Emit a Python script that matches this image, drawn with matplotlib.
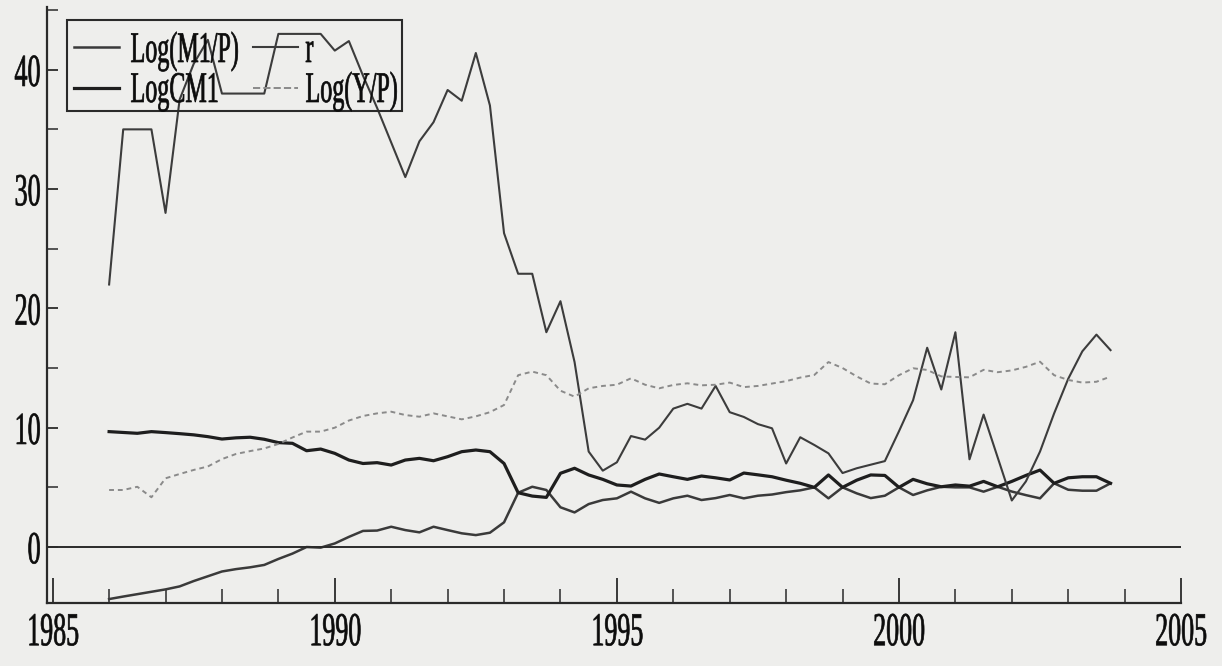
import numpy as np
import matplotlib
matplotlib.use("Agg")
import matplotlib.pyplot as plt
from matplotlib.lines import Line2D
from matplotlib.patches import Rectangle
from matplotlib.patheffects import AbstractPathEffect
from matplotlib.transforms import Affine2D

# quarterly observations, 1986(1) - 2003(4)
start_year = 1986
n_obs = 72

log_m1p = [-4.36, -4.15, -3.95, -3.75, -3.55, -3.3, -2.85, -2.45, -2.05, -1.85,
           -1.7, -1.5, -1.0, -0.55, 0.0, -0.05, 0.3, 0.85, 1.35, 1.38,
           1.7, 1.42, 1.23, 1.7, 1.42, 1.15, 1.0, 1.2, 2.07, 4.55,
           5.05, 4.78, 3.33, 2.9, 3.6, 3.94, 4.08, 4.64, 4.08, 3.7,
           4.08, 4.3, 3.94, 4.1, 4.36, 4.08, 4.3, 4.4, 4.6, 4.75,
           5.0, 4.08, 5.0, 4.5, 4.1, 4.3, 5.0, 4.36, 4.75, 5.05,
           5.0, 5.0, 4.64, 5.05, 4.65, 4.35, 4.08, 5.34, 4.8, 4.72,
           4.72, 5.34]

log_cm1 = [9.67, 9.6, 9.53, 9.67, 9.59, 9.5, 9.4, 9.25, 9.05, 9.15,
           9.2, 9.03, 8.75, 8.69, 8.07, 8.21, 7.85, 7.29, 7.0, 7.07,
           6.87, 7.29, 7.43, 7.23, 7.57, 7.99, 8.13, 7.99, 7.0, 4.55,
           4.27, 4.16, 6.18, 6.6, 6.04, 5.67, 5.2, 5.11, 5.67, 6.12,
           5.89, 5.67, 5.95, 5.8, 5.62, 6.2, 6.05, 5.89, 5.6, 5.34,
           5.0, 6.04, 5.0, 5.6, 6.04, 6.0, 5.0, 5.67, 5.3, 5.05,
           5.2, 5.1, 5.5, 5.05, 5.5, 6.0, 6.45, 5.34, 5.8, 5.89,
           5.89, 5.34]

r = [22.0, 35.0, 35.0, 35.0, 28.0, 37.5, 40.5, 42.5, 38.0, 38.0,
     38.0, 38.0, 43.0, 43.0, 43.0, 43.0, 41.6, 42.4, 39.5, 36.8,
     33.9, 31.0, 34.0, 35.6, 38.3, 37.4, 41.4, 37.0, 26.3, 22.9,
     22.9, 18.0, 20.6, 15.5, 8.0, 6.4, 7.1, 9.3, 9.0, 10.0,
     11.6, 12.0, 11.6, 13.5, 11.3, 10.9, 10.3, 9.95, 7.0, 9.2,
     8.55, 7.85, 6.2, 6.6, 6.9, 7.2, 9.7, 12.3, 16.7, 13.2,
     18.0, 7.35, 11.1, 7.5, 3.9, 5.5, 8.0, 11.2, 14.1, 16.4,
     17.8, 16.5]

log_yp = [4.78, 4.78, 5.05, 4.17, 5.76, 6.12, 6.46, 6.75, 7.37, 7.8,
          8.04, 8.26, 8.64, 9.18, 9.67, 9.67, 10.0, 10.6, 10.98, 11.2,
          11.34, 11.06, 10.92, 11.2, 10.95, 10.7, 10.95, 11.3, 11.9, 14.4,
          14.7, 14.4, 13.1, 12.6, 13.3, 13.5, 13.6, 14.14, 13.6, 13.3,
          13.58, 13.72, 13.55, 13.6, 13.78, 13.4, 13.5, 13.7, 13.9, 14.2,
          14.42, 15.5, 15.0, 14.3, 13.7, 13.64, 14.4, 14.98, 14.84, 14.3,
          14.25, 14.22, 14.85, 14.65, 14.8, 15.1, 15.53, 14.4, 14.0, 13.78,
          13.85, 14.28]

labels = ['Log(M1/P)', 'LogCM1', 'r', 'Log(Y/P)']
x_ticks = [1985, 1990, 1995, 2000, 2005]
y_ticks = [0, 10, 20, 30, 40]

t = start_year + np.arange(n_obs) / 4.0

W, H = 1222, 666
bg = '#eeeeec'
ink = '#2a2a2a'
text_ink = '#0c0c0c'
plt.rcParams['font.family'] = ['Liberation Serif', 'DejaVu Serif']


class Squeeze(AbstractPathEffect):
    """Draw text narrowed horizontally (condensed look), with a thin outline."""

    def __init__(self, sx, anchor='center', stroke=0.5):
        super().__init__()
        self.sx = sx
        self.anchor = anchor
        self.stroke = stroke

    def draw_path(self, renderer, gc, tpath, affine, rgbFace=None):
        ext = tpath.get_extents()
        c = {'left': ext.x0, 'right': ext.x1}.get(self.anchor, (ext.x0 + ext.x1) / 2)
        squeeze = Affine2D().translate(-c, 0).scale(self.sx, 1).translate(c, 0)
        gc0 = renderer.new_gc()
        gc0.copy_properties(gc)
        gc0.set_linewidth(self.stroke)
        gc0.set_foreground(rgbFace)
        renderer.draw_path(gc0, tpath, squeeze + affine, rgbFace)
        gc0.restore()


def fig_xy(px, py):
    return px / W, 1 - py / H


fig = plt.figure(figsize=(W / 100, H / 100), dpi=100, facecolor=bg)
ax = fig.add_axes([0.0385, 0.0946, 0.928, 0.895])
ax.set_facecolor(bg)

styles = [dict(color='#3a3a3a', lw=1.8),
          dict(color='#1e1e1e', lw=2.3),
          dict(color='#3c3c3c', lw=1.5),
          dict(color='#8a8a8a', lw=1.4, ls=(0, (2.5, 2)))]
for series, lab, st in zip([log_m1p, log_cm1, r, log_yp], labels, styles):
    ax.plot(t, series, label=lab, **st)
ax.axhline(0, color=ink, lw=1.4)

ax.set_xlim(1984.9, 2005)
ax.set_ylim(-4.69, 45.26)

for side in ('top', 'right'):
    ax.spines[side].set_visible(False)
for side in ('left', 'bottom'):
    ax.spines[side].set_color(ink)
    ax.spines[side].set_linewidth(1.6)

ax.set_xticks(x_ticks)
ax.set_xticks(np.arange(1986, 2005), minor=True)
ax.set_yticks(y_ticks)
ax.set_yticks([5, 15, 25, 35, 45], minor=True)
ax.tick_params(axis='x', which='major', direction='in', length=18, width=1.3,
               color=ink, labelsize=34, pad=7, labelcolor=text_ink)
ax.tick_params(axis='x', which='minor', direction='in', length=10, width=1.1, color=ink)
ax.tick_params(axis='y', which='major', direction='in', length=8, width=1.3,
               color=ink, labelsize=33, pad=4, labelcolor=text_ink)
ax.tick_params(axis='y', which='minor', direction='in', length=8, width=1.1, color=ink)
for lab in ax.get_xticklabels():
    lab.set_path_effects([Squeeze(0.55)])
for lab in ax.get_yticklabels():
    lab.set_path_effects([Squeeze(0.57, 'right')])

# legend box, two columns
fig.add_artist(Rectangle(fig_xy(66.5, 110.5), (402 - 66.5) / W, (110.5 - 20.5) / H,
                         transform=fig.transFigure, fill=False, ec=ink, lw=1.5))
handles = ax.get_lines()[:4]
slots = [(74, 47, 130, 62), (74, 88, 130, 102), (253, 47, 305, 62), (253, 88, 305, 102)]
for h, (hx, hy, tx, ty) in zip(handles, slots):
    x0, y0 = fig_xy(hx, hy)
    x1, _ = fig_xy(hx + 45, hy)
    fig.add_artist(Line2D([x0, x1], [y0, y0], transform=fig.transFigure,
                          color=h.get_color(), lw=h.get_linewidth(), ls=h.get_linestyle()))
    txt = fig.text(*fig_xy(tx, ty), h.get_label(), fontsize=31.5, color=text_ink,
                   ha='left', va='baseline')
    txt.set_path_effects([Squeeze(0.55, 'left')])

fig.savefig('out.png', dpi=100, facecolor=bg)
